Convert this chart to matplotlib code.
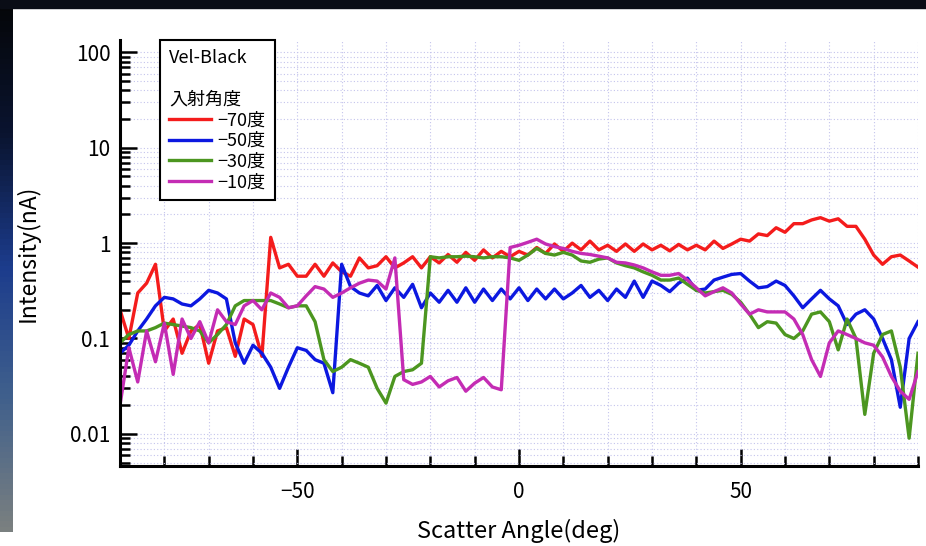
import numpy as np
import matplotlib
matplotlib.use('Agg')
import matplotlib.pyplot as plt
from matplotlib.patches import Rectangle
from matplotlib.colors import LinearSegmentedColormap
from matplotlib.ticker import FixedLocator, MultipleLocator, LogLocator, NullFormatter, FuncFormatter

plt.rcParams['font.family'] = ['Noto Sans CJK JP', 'DejaVu Sans']

# scatter angle, every 2 deg from -90 to 90
angle = np.arange(-90, 91, 2)

# intensity (nA), one row = 20 deg
red_m70 = [0.2, 0.1, 0.3, 0.38, 0.6, 0.12, 0.16, 0.07, 0.12, 0.14,
           0.055, 0.12, 0.13, 0.065, 0.16, 0.14, 0.065, 1.15, 0.55, 0.6,
           0.45, 0.45, 0.6, 0.45, 0.62, 0.5, 0.45, 0.7, 0.55, 0.58,
           0.72, 0.55, 0.62, 0.72, 0.55, 0.72, 0.62, 0.76, 0.63, 0.8,
           0.66, 0.85, 0.7, 0.82, 0.72, 0.82, 0.75, 0.9, 0.78, 0.98,
           0.82, 1.0, 0.85, 1.05, 0.85, 0.95, 0.82, 0.98, 0.82, 0.98,
           0.85, 0.95, 0.83, 0.97, 0.85, 0.95, 0.85, 1.05, 0.88, 0.98,
           1.1, 1.05, 1.25, 1.2, 1.45, 1.3, 1.6, 1.6, 1.75, 1.85,
           1.7, 1.8, 1.5, 1.5, 1.1, 0.75, 0.6, 0.72, 0.75, 0.65,
           0.56]
blue_m50 = [0.07, 0.085, 0.12, 0.16, 0.22, 0.27, 0.26, 0.23, 0.22, 0.26,
            0.32, 0.3, 0.26, 0.09, 0.055, 0.085, 0.07, 0.05, 0.03, 0.05,
            0.08, 0.075, 0.06, 0.055, 0.027, 0.6, 0.35, 0.3, 0.28, 0.36,
            0.25, 0.34, 0.27, 0.37, 0.21, 0.3, 0.24, 0.32, 0.24, 0.34,
            0.24, 0.33, 0.25, 0.33, 0.26, 0.34, 0.25, 0.33, 0.26, 0.33,
            0.26, 0.3, 0.36, 0.27, 0.32, 0.25, 0.33, 0.27, 0.4, 0.27,
            0.4, 0.36, 0.31, 0.38, 0.43, 0.32, 0.33, 0.41, 0.44, 0.47,
            0.48, 0.4, 0.34, 0.35, 0.4, 0.36, 0.28, 0.21, 0.26, 0.32,
            0.26, 0.22, 0.14, 0.18, 0.2, 0.16, 0.1, 0.06, 0.019, 0.1,
            0.15]
green_m30 = [0.09, 0.11, 0.12, 0.12, 0.13, 0.145, 0.14, 0.135, 0.13, 0.12,
             0.09, 0.11, 0.14, 0.22, 0.25, 0.25, 0.25, 0.25, 0.23, 0.21,
             0.22, 0.22, 0.15, 0.06, 0.045, 0.05, 0.06, 0.055, 0.05, 0.03,
             0.021, 0.04, 0.045, 0.047, 0.055, 0.72, 0.7, 0.72, 0.72, 0.73,
             0.72, 0.7, 0.72, 0.72, 0.7, 0.66, 0.75, 0.88, 0.78, 0.75,
             0.8, 0.75, 0.65, 0.63, 0.68, 0.7, 0.62, 0.58, 0.55, 0.5,
             0.46, 0.41, 0.41, 0.43, 0.37, 0.32, 0.3, 0.31, 0.32, 0.29,
             0.24, 0.18, 0.13, 0.15, 0.145, 0.11, 0.1, 0.12, 0.18, 0.19,
             0.15, 0.076, 0.16, 0.1, 0.016, 0.07, 0.11, 0.12, 0.05, 0.009,
             0.07]
magenta_m10 = [0.02, 0.08, 0.035, 0.12, 0.057, 0.145, 0.042, 0.16, 0.1, 0.15,
               0.09, 0.2, 0.15, 0.14, 0.22, 0.25, 0.2, 0.3, 0.27, 0.21,
               0.22, 0.28, 0.35, 0.33, 0.27, 0.3, 0.34, 0.38, 0.41, 0.4,
               0.33, 0.7, 0.037, 0.033, 0.035, 0.04, 0.031, 0.036, 0.039, 0.028,
               0.034, 0.039, 0.031, 0.029, 0.9, 0.95, 1.02, 1.1, 0.98, 0.92,
               0.88, 0.82, 0.78, 0.76, 0.73, 0.7, 0.63, 0.62, 0.59, 0.55,
               0.5, 0.46, 0.46, 0.48, 0.41, 0.34, 0.28, 0.31, 0.34, 0.3,
               0.23, 0.18, 0.2, 0.19, 0.19, 0.19, 0.16, 0.11, 0.06, 0.04,
               0.09, 0.12, 0.11, 0.1, 0.09, 0.085, 0.064, 0.04, 0.028, 0.023,
               0.045]

series = [(red_m70, '#f41c1c', '\u221270度'),
          (blue_m50, '#0c18e0', '\u221250度'),
          (green_m30, '#4c9620', '\u221230度'),
          (magenta_m10, '#c42cb4', '\u221210度')]

W, H = 926, 546
fig = plt.figure(figsize=(W / 100, H / 100), dpi=100, facecolor='white')

# dark photo border on top and left
fig.patches.append(Rectangle((0, 1 - 8 / H), 1, 8 / H, transform=fig.transFigure,
                             color='#0a0d16', zorder=0))
strip = fig.add_axes([0, 14 / H, 13 / W, 1 - 14 / H])
cmap = LinearSegmentedColormap.from_list('bg', ['#050608', '#0a1430', '#1c3c8c', '#40608c', '#7a8080'])
strip.imshow(np.linspace(0, 1, 100).reshape(-1, 1), aspect='auto', cmap=cmap)
strip.axis('off')

ax = fig.add_axes([120 / W, 80 / H, 798 / W, 426 / H])
for vals, col, lab in series:
    ax.plot(angle, vals, color=col, lw=2.4, label=lab, solid_joinstyle='round')

ax.set_yscale('log')
ax.set_xlim(-90, 90)
ax.set_ylim(0.0046, 135)

ax.xaxis.set_major_locator(FixedLocator([-50, 0, 50]))
ax.xaxis.set_minor_locator(MultipleLocator(10))
ax.yaxis.set_major_locator(LogLocator(base=10, numticks=10))
ax.yaxis.set_minor_locator(LogLocator(base=10, subs=np.arange(2, 10), numticks=12))
ax.yaxis.set_minor_formatter(NullFormatter())
ax.yaxis.set_major_formatter(FuncFormatter(lambda v, _: f'{v:g}'))
ax.xaxis.set_major_formatter(FuncFormatter(lambda v, _: f'{v:g}'.replace('-', '\u2212')))

ax.grid(which='both', color='#c4c4ec', ls=(0, (1, 2)), lw=0.8)
ax.set_axisbelow(True)
for s in ['top', 'right']:
    ax.spines[s].set_visible(False)
for s in ['left', 'bottom']:
    ax.spines[s].set_linewidth(2.2)
ax.tick_params(which='both', direction='in', width=1.8, top=False, right=False,
               labelsize=15, pad=7)
ax.tick_params(axis='x', which='both', pad=11)
ax.tick_params(which='major', length=12)
ax.tick_params(which='minor', length=7)

ax.set_xlabel('Scatter Angle(deg)', fontsize=17, labelpad=11)
ax.set_ylabel('Intensity(nA)', fontsize=16.5, labelpad=22)

leg = ax.legend(title='Vel-Black\n\n入射角度', loc='upper left', bbox_to_anchor=(40 / 798, 1.0),
                borderaxespad=0, fancybox=False, edgecolor='black', framealpha=1,
                fontsize=13, title_fontsize=13, alignment='left', handlelength=2.3,
                handletextpad=0.4, labelspacing=0.15, borderpad=0.5)
leg.get_frame().set_linewidth(1.5)

fig.savefig('out.png', dpi=100, facecolor=fig.get_facecolor())
